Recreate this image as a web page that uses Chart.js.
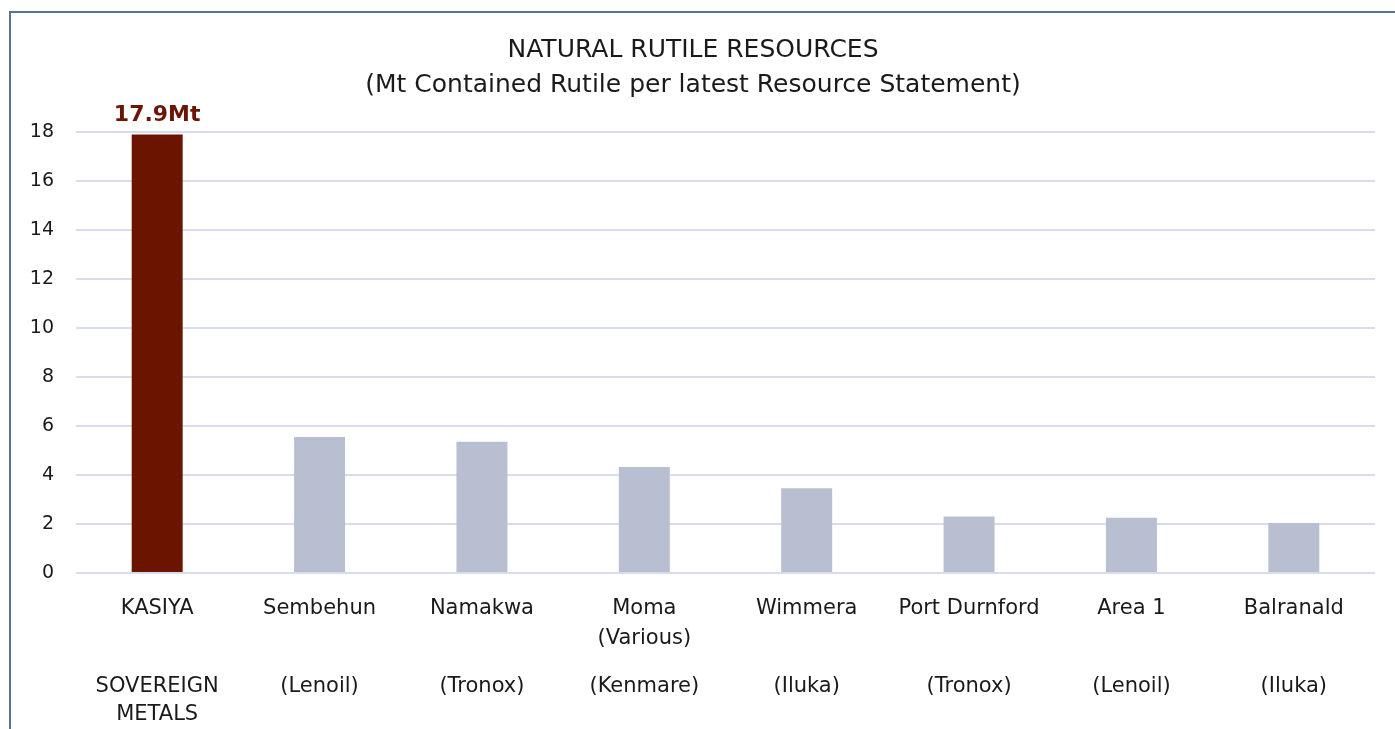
<!DOCTYPE html>
<html>
<head>
<meta charset="utf-8">
<script src="https://cdn.jsdelivr.net/npm/chart.js@4"></script>
<style>
    html, body { margin: 0; padding: 0; background: #fff; overflow: hidden; }
    .frame {
        position: absolute; left: 9px; top: 11px; width: 1400px; height: 730px;
        border-left: 2px solid #5B6F93; border-top: 2px solid #5B6F93;
    }
    .wrap { position: absolute; left: 11px; top: 13px; width: 1384px; height: 716px; }
</style>
</head>
<body>
<div class="frame"></div>
<div class="wrap"><canvas id="rutileChart"></canvas></div>
<script>
const deposits = [
    ['KASIYA'],
    ['Sembehun'],
    ['Namakwa'],
    ['Moma', '(Various)'],
    ['Wimmera'],
    ['Port Durnford'],
    ['Area 1'],
    ['Balranald']
];
const owners = [
    ['SOVEREIGN', 'METALS'],
    ['(Lenoil)'],
    ['(Tronox)'],
    ['(Kenmare)'],
    ['(Iluka)'],
    ['(Tronox)'],
    ['(Lenoil)'],
    ['(Iluka)']
];
const rutileMt = [17.9, 5.55, 5.36, 4.33, 3.46, 2.31, 2.26, 2.04];
const highlightLabel = '17.9Mt';

const FONT = '"DejaVu Sans", sans-serif';
const KASIYA_RED = '#6B1500';
const PEER_GREY = '#B8BFD1';

// draws the value label above the first bar only
const highlightLabelPlugin = {
    id: 'highlightLabel',
    afterDatasetsDraw(chart) {
        const bar = chart.getDatasetMeta(0).data[0];
        if (!bar) return;
        const ctx = chart.ctx;
        ctx.save();
        ctx.font = `bold 22px ${FONT}`;
        ctx.fillStyle = KASIYA_RED;
        ctx.textAlign = 'center';
        ctx.textBaseline = 'bottom';
        ctx.fillText(highlightLabel, bar.x, bar.y - 8);
        ctx.restore();
    }
};

new Chart(document.getElementById('rutileChart'), {
    type: 'bar',
    data: {
        labels: deposits,
        datasets: [{
            data: rutileMt,
            backgroundColor: (c) => c.dataIndex === 0 ? KASIYA_RED : PEER_GREY,
            categoryPercentage: 1,
            barPercentage: 0.314
        }]
    },
    options: {
        responsive: true,
        maintainAspectRatio: false,
        animation: false,
        layout: { padding: { left: 0, right: 20, top: 0, bottom: 0 } },
        plugins: {
            legend: { display: false },
            tooltip: { enabled: false },
            title: {
                display: true,
                text: ['NATURAL RUTILE RESOURCES', '(Mt Contained Rutile per latest Resource Statement)'],
                color: '#1a1a1a',
                font: { family: FONT, size: 25, weight: 'normal', lineHeight: 1.4 },
                padding: { top: 20, bottom: 29 }
            }
        },
        scales: {
            y: {
                min: 0,
                max: 18,
                ticks: {
                    stepSize: 2,
                    color: '#1a1a1a',
                    padding: 22,
                    font: { family: FONT, size: 19 }
                },
                grid: { color: '#D9DBEF', lineWidth: 2, drawTicks: false },
                border: { display: false },
                afterFit(scale) { scale.width = 65; }
            },
            x: {
                ticks: {
                    color: '#1a1a1a',
                    padding: 13,
                    maxRotation: 0,
                    autoSkip: false,
                    font: { family: FONT, size: 21, lineHeight: 1.42 }
                },
                grid: { display: false },
                border: { display: false },
                afterFit(scale) { scale.height = 80; }
            },
            x2: {
                type: 'category',
                position: 'bottom',
                labels: owners,
                ticks: {
                    color: '#1a1a1a',
                    padding: 11,
                    maxRotation: 0,
                    autoSkip: false,
                    font: { family: FONT, size: 21, lineHeight: 1.35 }
                },
                grid: { display: false },
                border: { display: false },
                afterFit(scale) { scale.height = 76; }
            }
        }
    },
    plugins: [highlightLabelPlugin]
});
</script>
</body>
</html>
